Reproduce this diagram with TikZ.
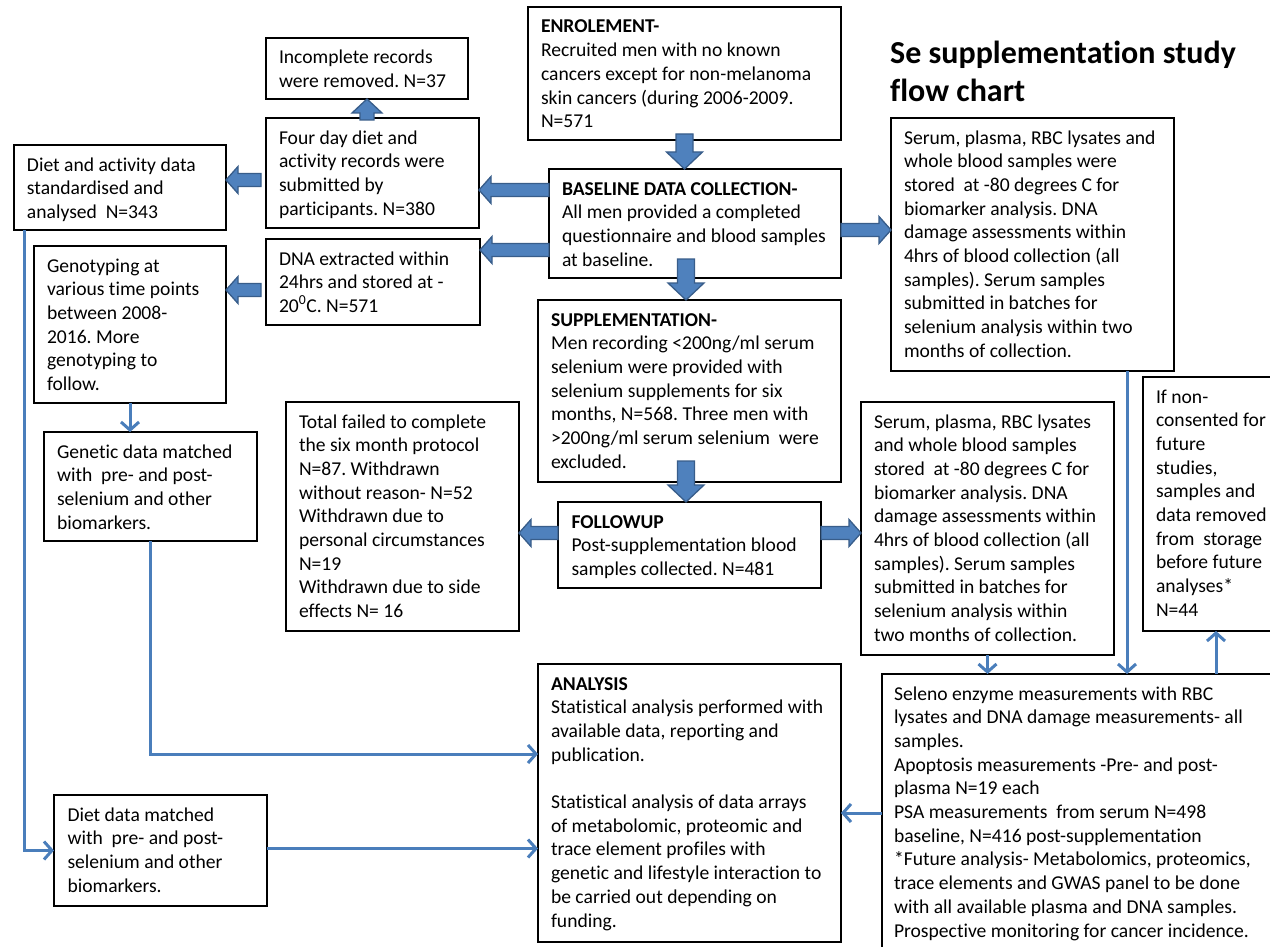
\documentclass[tikz,border=0pt]{standalone}
\usepackage{fontspec}
\setmainfont{Carlito}[Ligatures={NoCommon}]
\frenchspacing
\usetikzlibrary{arrows.meta,calc}
\definecolor{bfill}{HTML}{4F81BD}
\definecolor{bdark}{HTML}{385D8A}
\definecolor{lineblue}{HTML}{4A7EBB}
\tikzset{
  box/.style={draw=black, line width=2.6pt, anchor=north west, inner sep=0pt, outer sep=0pt},
  txt/.style={anchor=north west, inner sep=0pt, outer sep=0pt, align=left, font=\fontsize{19.6}{23.7}\selectfont},
  ttl/.style={anchor=base west, inner sep=0pt, font=\fontsize{32}{38.5}\selectfont\bfseries},
  conn/.style={draw=lineblue, line width=3pt, -{Straight Barb[length=8pt,width=18pt]}},
  blk/.style={fill=bfill, draw=bdark, line width=1.3pt, line join=miter},
}
% block arrows: #1 tail, #2 tip, #3 shaft half, #4 head half, #5 head length
\newcommand\bdown[5]{\path[blk] let \p1=(#1),\p2=(#2) in
  (\x1-#3pt,\y1) -- (\x1-#3pt,\y2+#5pt) -- (\x1-#4pt,\y2+#5pt) -- (\x1,\y2) --
  (\x1+#4pt,\y2+#5pt) -- (\x1+#3pt,\y2+#5pt) -- (\x1+#3pt,\y1) -- cycle;}
\newcommand\bup[5]{\path[blk] let \p1=(#1),\p2=(#2) in
  (\x1-#3pt,\y1) -- (\x1-#3pt,\y2-#5pt) -- (\x1-#4pt,\y2-#5pt) -- (\x1,\y2) --
  (\x1+#4pt,\y2-#5pt) -- (\x1+#3pt,\y2-#5pt) -- (\x1+#3pt,\y1) -- cycle;}
\newcommand\bleft[5]{\path[blk] let \p1=(#1),\p2=(#2) in
  (\x1,\y1-#3pt) -- (\x2+#5pt,\y1-#3pt) -- (\x2+#5pt,\y1-#4pt) -- (\x2,\y1) --
  (\x2+#5pt,\y1+#4pt) -- (\x2+#5pt,\y1+#3pt) -- (\x1,\y1+#3pt) -- cycle;}
\newcommand\bright[5]{\path[blk] let \p1=(#1),\p2=(#2) in
  (\x1,\y1-#3pt) -- (\x2-#5pt,\y1-#3pt) -- (\x2-#5pt,\y1-#4pt) -- (\x2,\y1) --
  (\x2-#5pt,\y1+#4pt) -- (\x2-#5pt,\y1+#3pt) -- (\x1,\y1+#3pt) -- cycle;}
\newcommand\fl{\rule{0pt}{26pt}}
\begin{document}
\begin{tikzpicture}[x=1pt,y=-1pt]
\path[use as bounding box, clip] (0,0) rectangle (1270,947);
\fill[white] (0,0) rectangle (1270,947);

% ---------- boxes ----------
\node[box, minimum width=313pt, minimum height=133pt] (enrol) at (528,7) {};
\node[box, minimum width=292pt, minimum height=109pt] (base) at (549,169) {};
\node[box, minimum width=303pt, minimum height=182pt] (supp) at (538,300) {};
\node[box, minimum width=263pt, minimum height=86pt] (follow) at (558,502) {};
\node[box, minimum width=303pt, minimum height=278pt] (analysis) at (538,664) {};
\node[box, minimum width=283pt, minimum height=253pt] (serum1) at (891,118) {};
\node[box, minimum width=253pt, minimum height=253pt] (serum2) at (861,402) {};
\node[box, minimum width=140pt, minimum height=254pt] (nonc) at (1143,377) {};
\node[box, minimum width=400pt, minimum height=290pt] (seleno) at (882,674) {};
\node[box, minimum width=202pt, minimum height=61pt] (incomplete) at (266,38) {};
\node[box, minimum width=213pt, minimum height=110pt] (fourday) at (266,118) {};
\node[box, minimum width=212pt, minimum height=85pt] (dietact) at (14,145) {};
\node[box, minimum width=214pt, minimum height=86pt] (dna) at (266,239) {};
\node[box, minimum width=192pt, minimum height=157pt] (geno) at (34,246) {};
\node[box, minimum width=213pt, minimum height=109pt] (genetic) at (44,432) {};
\node[box, minimum width=233pt, minimum height=229pt] (total) at (286,402) {};
\node[box, minimum width=213pt, minimum height=111pt] (dietdata) at (54,795) {};

% ---------- texts ----------
\node[txt] (enrolt) at ([xshift=13pt]enrol.north west) {\fl\textbf{ENROLEMENT-}\\Recruited men with no known\\cancers except for non-melanoma\\skin cancers (during 2006-2009.\\N=571};
\node[txt] (baset) at ([xshift=13pt]base.north west) {\fl\textbf{BASELINE DATA COLLECTION-}\\All men provided a completed\\questionnaire and blood samples\\at baseline.};
\node[txt] (suppt) at ([xshift=13pt]supp.north west) {\fl\textbf{SUPPLEMENTATION-}\\Men recording <200ng/ml serum\\selenium were provided with\\selenium supplements for six\\months, N=568. Three men with\\>200ng/ml serum selenium\ \ were\\excluded.};
\node[txt] (followt) at ([xshift=13.5pt]follow.north west) {\fl\textbf{FOLLOWUP}\\Post-supplementation blood\\samples collected. N=481};
\node[txt] (analysist) at ([xshift=13pt]analysis.north west) {\fl\textbf{ANALYSIS}\\Statistical analysis performed with\\available data, reporting and\\publication.\\[23.7pt]Statistical analysis of data arrays\\of metabolomic, proteomic and\\trace element profiles with\\genetic and lifestyle interaction to\\be carried out depending on\\funding.};
\node[txt] (serum1t) at ([xshift=13pt]serum1.north west) {\fl Serum, plasma, RBC lysates and\\whole blood samples were\\stored\ \ at -80 degrees C for\\biomarker analysis. DNA\\damage assessments within\\4hrs of blood collection (all\\samples). Serum samples\\submitted in batches for\\selenium analysis within two\\months of collection.};
\node[txt] (serum2t) at ([xshift=13pt]serum2.north west) {\fl Serum, plasma, RBC lysates\\and whole blood samples\\stored\ \ at -80 degrees C for\\biomarker analysis. DNA\\damage assessments within\\4hrs of blood collection (all\\samples). Serum samples\\submitted in batches for\\selenium analysis within\\two months of collection.};
\node[txt] (nonct) at ([xshift=13pt]nonc.north west) {\fl If non-\\consented for\\future\\studies,\\samples and\\data removed\\from\ \ storage\\before future\\analyses*\\N=44};
\node[txt] (selenot) at ([xshift=12pt]seleno.north west) {\fl Seleno enzyme measurements with RBC\\lysates and DNA damage measurements- all\\samples.\\Apoptosis measurements -Pre- and post-\\plasma N=19 each\\PSA measurements\ \ from serum N=498\\baseline, N=416 post-supplementation\\*Future analysis- Metabolomics, proteomics,\\trace elements and GWAS panel to be done\\with all available plasma and DNA samples.\\Prospective monitoring for cancer incidence.};
\node[txt] (incompletet) at ([xshift=13pt]incomplete.north west) {\fl Incomplete records\\were removed. N=37};
\node[txt] (fourdayt) at ([xshift=13pt]fourday.north west) {\fl Four day diet and\\activity records were\\submitted by\\participants. N=380};
\node[txt] (dietactt) at ([xshift=13pt]dietact.north west) {\fl Diet and activity data\\standardised and\\analysed\ \ N=343};
\node[txt] (dnat) at ([xshift=13pt]dna.north west) {\fl DNA extracted within\\24hrs and stored at -\\20\textsuperscript{0}C. N=571};
\node[txt] (genot) at ([xshift=13pt]geno.north west) {\fl Genotyping at\\various time points\\between 2008-\\2016. More\\genotyping to\\follow.};
\node[txt] (genetict) at ([xshift=13pt]genetic.north west) {\fl Genetic data matched\\with\ \ pre- and post-\\selenium and other\\biomarkers.};
\node[txt] (totalt) at ([xshift=13pt]total.north west) {\fl Total failed to complete\\the six month protocol\\N=87. Withdrawn\\without reason- N=52\\Withdrawn due to\\personal circumstances\\N=19\\Withdrawn due to side\\effects N= 16};
\node[txt] (dietdatat) at ([xshift=13.5pt]dietdata.north west) {\fl Diet data matched\\with\ \ pre- and post-\\selenium and other\\biomarkers.};

% ---------- title ----------
\node[ttl] (title1) at (890,64) {Se supplementation study};
\node[ttl] (title2) at (890,102) {flow chart};

% ---------- block arrows ----------
\bdown{[yshift=6pt]enrol.south}{base.north}{8.5}{18}{17}
\bdown{[xshift=-9pt,yshift=19pt]base.south}{supp.north}{8.5}{18}{17}
\bdown{[xshift=-3.5pt,yshift=21pt]supp.south}{follow.north}{8.5}{18}{17}
\bup{$(incomplete.south |- fourday.north)+(0,2)$}{incomplete.south}{7}{15}{14}
\bleft{[yshift=-21pt]base.north west}{fourday.east}{6.5}{13.5}{12}
\bleft{[yshift=-81pt]base.north west}{dna.east}{6.5}{13.5}{12}
\bleft{[xshift=-5pt,yshift=-62pt]fourday.north west}{dietact.east}{6.5}{13.5}{12}
\bleft{[xshift=-5pt,yshift=-51pt]dna.north west}{geno.east}{6.5}{13.5}{12}
\bright{[yshift=-61pt]base.north east}{serum1.west}{6.5}{13.5}{12}
\bleft{[yshift=-31pt]follow.north west}{total.east}{6.5}{13.5}{12}
\bright{[yshift=-31pt]follow.north east}{serum2.west}{6.5}{13.5}{12}

% ---------- thin connectors ----------
\draw[conn] ([xshift=10pt]dietact.south west) |- (dietdata.west);
\draw[conn] (geno.south) -- (geno.south |- genetic.north);
\draw[conn] (genetic.south) |- ([yshift=-90pt]analysis.north west);
\draw[conn] ([yshift=2pt]dietdata.east) -- ([yshift=2pt]dietdata.east -| analysis.west);
\draw[conn] ([xshift=-47pt]serum1.south east) -- ([xshift=-47pt]serum1.south east |- seleno.north);
\draw[conn] (serum2.south) -- (serum2.south |- seleno.north);
\draw[conn] ([xshift=73pt]nonc.south west |- seleno.north) -- ([xshift=73pt]nonc.south west);
\draw[conn] ([yshift=-139pt]seleno.north west) -- ([yshift=-139pt]seleno.north west -| analysis.east);
\end{tikzpicture}
\end{document}
